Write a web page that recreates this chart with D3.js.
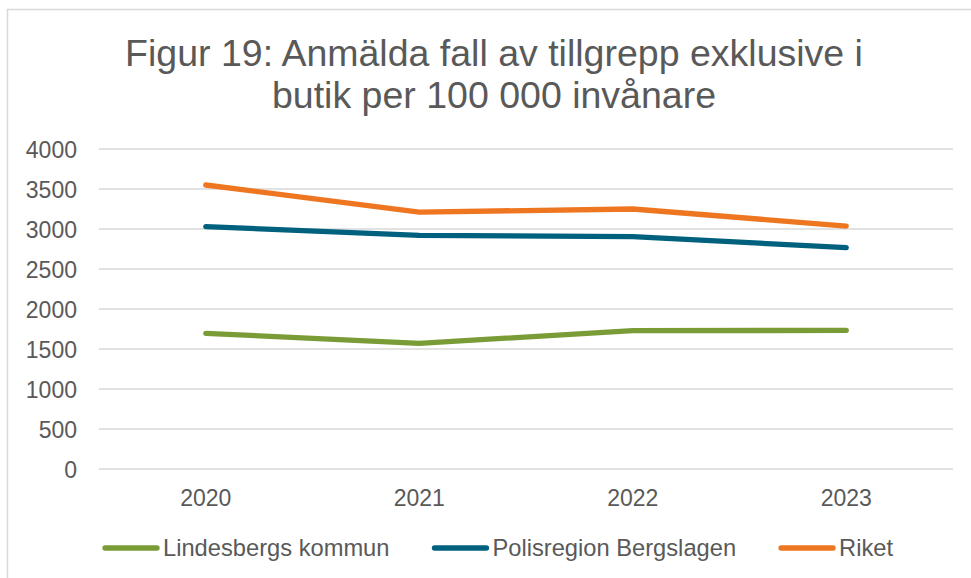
<!DOCTYPE html>
<html>
<head>
<meta charset="utf-8">
<script src="https://cdn.jsdelivr.net/npm/d3@7"></script>
<style>
  html, body { margin: 0; padding: 0; background: #fff; }
  svg { display: block; font-family: "Liberation Sans", Arial, sans-serif; }
</style>
</head>
<body>
<svg id="chart" width="971" height="578"></svg>
<script>
const titleLines = ["Figur 19: Anmälda fall av tillgrepp exklusive i", "butik per 100 000 invånare"];
const years = ["2020", "2021", "2022", "2023"];
const yTicks = [0, 500, 1000, 1500, 2000, 2500, 3000, 3500, 4000];
const seriesNames = ["Lindesbergs kommun", "Polisregion Bergslagen", "Riket"];
const lindesberg = [1696, 1571, 1729, 1733];
const bergslagen = [3029, 2921, 2904, 2767];
const riket = [3550, 3212, 3250, 3037];
const seriesColors = ["#7a9c36", "#00617e", "#ef7621"];

const series = [lindesberg, bergslagen, riket].map((v, i) => ({ name: seriesNames[i], values: v, color: seriesColors[i] }));

const svg = d3.select("#chart");
const textColor = "#595959";
const gridColor = "#d9d9d9";

// outer border (chart area frame, clipped at right/bottom)
svg.append("path")
  .attr("d", "M7.5,600 L7.5,9.5 L1000,9.5")
  .attr("fill", "none").attr("stroke", gridColor).attr("stroke-width", 1.5);

const plot = { left: 99, right: 953, top: 149, bottom: 469 };

const x = d3.scaleBand().domain(years).range([plot.left, plot.right]);
const y = d3.scaleLinear().domain([0, 4000]).range([plot.bottom, plot.top]);

// title
svg.append("g").selectAll("text").data(titleLines).join("text")
  .attr("x", 494)
  .attr("y", (d, i) => 66 + i * 42)
  .attr("text-anchor", "middle")
  .attr("font-size", "37.5px")
  .attr("fill", textColor)
  .text(d => d);

// gridlines
svg.append("g").selectAll("line").data(yTicks).join("line")
  .attr("x1", plot.left).attr("x2", plot.right)
  .attr("y1", d => y(d)).attr("y2", d => y(d))
  .attr("stroke", gridColor).attr("stroke-width", 1.5);

// y axis
const yAxis = svg.append("g")
  .attr("transform", `translate(${plot.left - 22},0)`)
  .call(d3.axisLeft(y).tickValues(yTicks).tickSize(0).tickPadding(0).tickFormat(d3.format("d")));
yAxis.select(".domain").remove();
yAxis.selectAll("text")
  .attr("font-size", "23px").attr("font-family", "Liberation Sans, Arial, sans-serif")
  .attr("fill", textColor).attr("dy", "0.36em");

// x axis
const xAxis = svg.append("g")
  .attr("transform", `translate(0,${plot.bottom + 18})`)
  .call(d3.axisBottom(x).tickSize(0).tickPadding(0));
xAxis.select(".domain").remove();
xAxis.selectAll("text")
  .attr("font-size", "23px").attr("font-family", "Liberation Sans, Arial, sans-serif")
  .attr("fill", textColor).attr("dy", "0.82em");

// lines
const line = d3.line()
  .x((d, i) => x(years[i]) + x.bandwidth() / 2)
  .y(d => y(d));

svg.append("g").selectAll("path").data(series).join("path")
  .attr("d", d => line(d.values))
  .attr("fill", "none")
  .attr("stroke", d => d.color)
  .attr("stroke-width", 5.3)
  .attr("stroke-linecap", "round")
  .attr("stroke-linejoin", "round");

// legend
const legend = svg.append("g");
let lx = 103;
const ly = 548;
series.forEach(s => {
  const g = legend.append("g");
  g.append("line")
    .attr("x1", lx + 2).attr("x2", lx + 54)
    .attr("y1", ly).attr("y2", ly)
    .attr("stroke", s.color).attr("stroke-width", 5.3).attr("stroke-linecap", "round");
  const t = g.append("text")
    .attr("x", lx + 60).attr("y", ly + 8)
    .attr("font-size", "23.7px")
    .attr("fill", textColor)
    .text(s.name);
  lx += 60 + t.node().getComputedTextLength() + 43;
});
</script>
</body>
</html>
